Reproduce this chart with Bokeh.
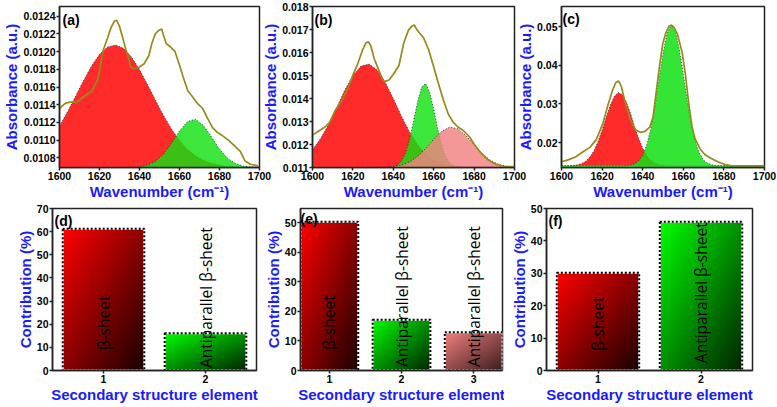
import math
import numpy as np
from bokeh.plotting import figure
from bokeh.layouts import row, column
from bokeh.models import Range1d, FixedTicker, NumeralTickFormatter, Label, ColumnDataSource
from bokeh.core.properties import value
from bokeh.embed import file_html
from bokeh.resources import INLINE

# ------------------------------------------------------------------ data
wn_ticks = [1600, 1620, 1640, 1660, 1680, 1700]

# panel (a)
a_yticks = [0.0108, 0.0110, 0.0112, 0.0114, 0.0116, 0.0118, 0.0120, 0.0122, 0.0124]
a_fit_x = [1600, 1604, 1608, 1612, 1616, 1620, 1624, 1628, 1632, 1636, 1640, 1644, 1648,
           1652, 1656, 1660, 1664, 1668, 1672, 1676, 1680, 1684, 1688, 1692, 1696, 1700]
a_beta = [0.011160, 0.011319, 0.011495, 0.011673, 0.011837, 0.011969, 0.012052, 0.012076,
          0.012037, 0.011940, 0.011799, 0.011629, 0.011450, 0.011278, 0.011124, 0.010996,
          0.010896, 0.010823, 0.010772, 0.010738, 0.010717, 0.010704, 0.010697, 0.010693,
          0.010691, 0.010690]
a_anti = [0.010690, 0.010690, 0.010690, 0.010690, 0.010690, 0.010690, 0.010690, 0.010690,
          0.010690, 0.010692, 0.010698, 0.010717, 0.010760, 0.010841, 0.010964, 0.011104,
          0.011210, 0.011235, 0.011165, 0.011035, 0.010898, 0.010795, 0.010734, 0.010705,
          0.010694, 0.010691]
a_spec_x = [1600, 1603, 1605.4, 1608.7, 1612.7, 1616.3, 1619.3, 1621.7, 1624.2, 1625.8, 1627.5,
            1628.6, 1629.9, 1631.5, 1633.2, 1634.3, 1635.6, 1637.3, 1639.7, 1642.2, 1644.6,
            1646.2, 1647.9, 1649.5, 1651.1, 1652.0, 1653.3, 1655.2, 1657.7, 1659.3, 1661.8,
            1664.2, 1666.7, 1669.1, 1671.6, 1674.0, 1676.5, 1678.9, 1681.4, 1684.6, 1687.9,
            1690.4, 1692.8, 1695.3, 1699.3]
a_spec = [0.011357, 0.011418, 0.011429, 0.011430, 0.011501, 0.011555, 0.011698, 0.012004,
          0.012166, 0.012274, 0.012346, 0.012353, 0.012292, 0.012166, 0.012022, 0.011950,
          0.011824, 0.011806, 0.011824, 0.011860, 0.011950, 0.012094, 0.012202, 0.012238,
          0.012256, 0.012184, 0.012094, 0.012058, 0.012004, 0.011896, 0.011717, 0.011555,
          0.011483, 0.011411, 0.011357, 0.011249, 0.011141, 0.011087, 0.011051, 0.010997,
          0.010925, 0.010871, 0.010763, 0.010727, 0.010709]

# panel (b)
b_yticks = [0.011, 0.012, 0.013, 0.014, 0.015, 0.016, 0.017, 0.018]
b_fit_x = a_fit_x
b_beta = [0.011775, 0.012256, 0.012885, 0.013618, 0.014365, 0.015004, 0.015410, 0.015496,
          0.015243, 0.014706, 0.013997, 0.013243, 0.012554, 0.011997, 0.011591, 0.011325,
          0.011165, 0.011078, 0.011034, 0.011013, 0.011005, 0.011001, 0.011000, 0.011000,
          0.011000, 0.011000]
b_anti2 = [0.011000, 0.011000, 0.011000, 0.011000, 0.011000, 0.011000, 0.011000, 0.011000,
           0.011000, 0.011012, 0.011038, 0.011103, 0.011238, 0.011478, 0.011826, 0.012231,
           0.012583, 0.012756, 0.012680, 0.012386, 0.011986, 0.011605, 0.011320, 0.011146,
           0.011058, 0.011020]
b_anti1_x = [1600, 1620, 1630, 1636, 1638, 1640, 1642, 1644, 1646, 1648, 1650, 1652, 1654,
             1656, 1658, 1660, 1662, 1664, 1666, 1668, 1670, 1672, 1674, 1676, 1680, 1700]
b_anti1 = [0.011000, 0.011000, 0.011000, 0.011002, 0.011009, 0.011034, 0.011104, 0.011275,
           0.011623, 0.012206, 0.013004, 0.013855, 0.014486, 0.014651, 0.014278, 0.013523,
           0.012666, 0.011943, 0.011457, 0.011190, 0.011068, 0.011021, 0.011005, 0.011001,
           0.011000, 0.011000]
b_spec_x = [1600, 1603.7, 1606.2, 1608.6, 1611.1, 1614.3, 1617.6, 1620.0, 1622.4, 1624.9,
            1626.5, 1627.6, 1628.9, 1630.6, 1632.2, 1633.8, 1635.4, 1637.9, 1640.3, 1642.8,
            1645.2, 1647.6, 1649.3, 1650.4, 1651.7, 1653.0, 1655.0, 1657.4, 1659.8, 1662.3,
            1664.7, 1667.2, 1669.6, 1672.0, 1674.5, 1677.7, 1680.2, 1683.4, 1686.7, 1690.7,
            1694.8, 1699.7]
b_spec = [0.012408, 0.012620, 0.012761, 0.012972, 0.013465, 0.013887, 0.014451, 0.015014,
          0.015507, 0.016141, 0.016423, 0.016465, 0.016282, 0.015718, 0.015366, 0.015014,
          0.014732, 0.014803, 0.015085, 0.015437, 0.016423, 0.016986, 0.017155, 0.017197,
          0.016986, 0.016845, 0.016634, 0.016141, 0.015437, 0.014662, 0.013958, 0.013324,
          0.012972, 0.012761, 0.012620, 0.012338, 0.011986, 0.011634, 0.011352, 0.011141,
          0.011042, 0.011042]

# panel (c)
c_yticks = [0.02, 0.03, 0.04, 0.05]
c_beta_x = [1600, 1604, 1606, 1608, 1610, 1612, 1614, 1616, 1618, 1620, 1622, 1624, 1626,
            1628, 1630, 1632, 1634, 1636, 1638, 1640, 1642, 1644, 1646, 1648, 1650, 1652,
            1656, 1660, 1700]
c_beta = [0.014004, 0.014040, 0.014106, 0.014257, 0.014575, 0.015186, 0.016244, 0.017912,
          0.020271, 0.023247, 0.026542, 0.029649, 0.031961, 0.032961, 0.032416, 0.030452,
          0.027521, 0.024221, 0.021108, 0.018548, 0.016676, 0.015448, 0.014721, 0.014330,
          0.014139, 0.014054, 0.014007, 0.014000, 0.014000]
c_anti_x = [1600, 1620, 1630, 1632, 1634, 1636, 1638, 1640, 1642, 1644, 1646, 1648, 1650,
            1652, 1654, 1656, 1658, 1660, 1662, 1664, 1666, 1668, 1670, 1672, 1674, 1676,
            1678, 1680, 1700]
c_anti = [0.014000, 0.014000, 0.014020, 0.014065, 0.014193, 0.014518, 0.015253, 0.016738,
          0.019392, 0.023580, 0.029358, 0.036229, 0.043034, 0.048218, 0.050409, 0.048928,
          0.044250, 0.037641, 0.030672, 0.024610, 0.020099, 0.017157, 0.015475, 0.014623,
          0.014237, 0.014082, 0.014025, 0.014000, 0.014000]
c_spec_x = [1600, 1602.9, 1606.9, 1610.8, 1614.0, 1617.2, 1620.4, 1622.8, 1625.2, 1626.8,
            1628.1, 1629.5, 1631.6, 1634.0, 1636.4, 1638.8, 1641.1, 1643.5, 1645.1, 1646.7,
            1648.3, 1649.9, 1651.5, 1653.1, 1654.2, 1655.5, 1657.1, 1659.5, 1661.1, 1662.7,
            1664.3, 1665.9, 1668.3, 1670.7, 1673.8, 1677.0, 1680.2, 1683.4, 1689.8, 1700]
c_spec = [0.01504, 0.01545, 0.01628, 0.01769, 0.01876, 0.02083, 0.02496, 0.02950, 0.03364,
          0.03554, 0.03595, 0.03446, 0.02992, 0.02579, 0.02331, 0.02264, 0.02289, 0.02397,
          0.02661, 0.03322, 0.03983, 0.04562, 0.04851, 0.05017, 0.05041, 0.04975, 0.04810,
          0.04314, 0.03736, 0.02992, 0.02413, 0.02083, 0.01835, 0.01686, 0.01587, 0.01504,
          0.01438, 0.01405, 0.01397, 0.01397]

# bar panels
d_elem = [1, 2]
d_contrib = [61.2, 16.1]
d_names = ["β-sheet", "Antiparallel β-sheet"]
d_yticks = [0, 10, 20, 30, 40, 50, 60, 70]

e_elem = [1, 2, 3]
e_contrib = [50.3, 17.2, 12.9]
e_names = ["β-sheet", "Antiparallel β-sheet", "Antiparallel β-sheet"]
e_yticks = [0, 10, 20, 30, 40, 50]

f_elem = [1, 2]
f_contrib = [30.2, 45.9]
f_names = ["β-sheet", "Antiparallel β-sheet"]
f_yticks = [0, 10, 20, 30, 40, 50]

# label anchor heights (in axis units) for the rotated bar captions
d_label_y = [20.6, 31.5]
e_label_y = [16.2, 25.0, 25.0]
f_label_y = [14.4, 24.0]

# ------------------------------------------------------------------ style
BLUE = "#1a1aff"
OLIVE = "#968a1e"
RED = "#ff2a2a"
GREEN = "#12e012"
SALMON = "#f08080"
TICKFONT = "Liberation Sans"


def style(p, xlabel, ylabel, xticks, yticks, yfmt):
    p.xaxis.axis_label = xlabel
    p.yaxis.axis_label = ylabel
    p.xaxis.ticker = FixedTicker(ticks=xticks)
    p.yaxis.ticker = FixedTicker(ticks=yticks)
    p.yaxis.formatter = NumeralTickFormatter(format=yfmt)
    for ax in (p.xaxis[0], p.yaxis[0]):
        ax.major_label_text_font = TICKFONT
        ax.major_label_text_font_style = "bold"
        ax.major_label_text_font_size = "10.5px"
        ax.major_label_text_color = "black"
        ax.axis_label_text_font = TICKFONT
        ax.axis_label_text_font_style = "bold"
        ax.axis_label_text_font_size = "15px"
        ax.axis_label_text_color = BLUE
        ax.major_tick_out = 3
        ax.major_tick_in = 0
        ax.minor_tick_out = 0
        ax.minor_tick_in = 0
        ax.axis_line_width = 1.5
        ax.axis_line_color = "#222222"
        ax.major_tick_line_width = 1.5
        ax.major_tick_line_color = "#222222"
        ax.major_label_standoff = 1
        ax.axis_label_standoff = 0
    p.xgrid.visible = False
    p.ygrid.visible = False
    p.outline_line_color = "#222222"
    p.outline_line_width = 1.5
    p.outline_line_alpha = 1.0
    p.border_fill_alpha = 0.0
    p.background_fill_color = "white"


def make_fig(fw, fh, xr, yr, ml, mr, mt, mb, shift=0):
    kw = dict(frame_width=fw, frame_height=fh, x_range=Range1d(*xr), y_range=Range1d(*yr),
              output_backend="svg", toolbar_location=None,
              min_border_left=ml, min_border_right=mr, min_border_top=mt, min_border_bottom=mb)
    if shift:
        kw["margin"] = (0, 0, 0, -shift)
    return figure(**kw)


def panel_tag(p, text, fw, fh, dx, dy):
    xr, yr = p.x_range, p.y_range
    x = xr.start + dx * (xr.end - xr.start) / fw
    y = yr.end - dy * (yr.end - yr.start) / fh
    p.add_layout(Label(x=x, y=y, text=text, text_font=TICKFONT, text_font_style="bold",
                       text_font_size="14px", text_color="black", text_align="left",
                       text_baseline="top"))


def fill(p, xs, ys, base, color, alpha):
    p.varea(x=xs, y1=[base] * len(xs), y2=ys, fill_color=color, fill_alpha=alpha)
    p.line(x=xs, y=ys, line_color="#202020", line_width=1, line_dash="1 2", line_alpha=0.8)


def gradient(bright, dark, n=96):
    u = np.linspace(0.0, 1.0, n)[None, :]
    v = np.linspace(0.0, 1.0, n)[:, None]
    f = ((1.0 - u) + v) / 2.0
    img = np.empty((n, n), dtype=np.uint32)
    view = img.view(dtype=np.uint8).reshape((n, n, 4))
    for k in range(3):
        view[:, :, k] = np.clip(dark[k] + (bright[k] - dark[k]) * f, 0, 255).astype(np.uint8)
    view[:, :, 3] = 255
    return img


BAR_STYLES = {
    "red": ((255, 0, 0), (25, 0, 0)),
    "green": ((0, 255, 0), (0, 35, 0)),
    "salmon": ((240, 128, 128), (60, 28, 28)),
}


def bars(p, cats, vals, names, label_y, colors):
    half = 0.4
    for c, v, col in zip(cats, vals, colors):
        bright, dark = BAR_STYLES[col]
        p.image_rgba(image=[gradient(bright, dark)], x=c - half, y=0, dw=2 * half, dh=v)
    src = ColumnDataSource(dict(left=[c - half for c in cats], right=[c + half for c in cats],
                                top=vals, bottom=[0] * len(vals)))
    p.quad(left="left", right="right", top="top", bottom="bottom", source=src,
           fill_alpha=0, line_color="white", line_width=2)
    p.quad(left="left", right="right", top="top", bottom="bottom", source=src,
           fill_alpha=0, line_color="black", line_width=2, line_dash="2 2")
    tsrc = ColumnDataSource(dict(x=cats, y=label_y, t=names))
    p.text(x="x", y="y", text="t", source=tsrc, angle=math.pi / 2,
           text_font=value("Open Sans"), text_font_size=value("15.5px"),
           text_align="center", text_baseline="middle", text_color="black")


XLAB_TOP = "Wavenumber (cm⁻¹)"
YLAB_TOP = "Absorbance (a.u.)"
XLAB_BOT = "Secondary structure element"
YLAB_BOT = "Contribution (%)"

FH_TOP = 161
FH_BOT = 162

# ---- (a)
pa = make_fig(200, FH_TOP, (1600, 1700), (0.01069, 0.01251), 52, 14, 6, 28)
style(pa, XLAB_TOP, YLAB_TOP, wn_ticks, a_yticks, "0.0000")
fill(pa, a_fit_x, a_beta, 0.0106, RED, 1.0)
fill(pa, a_fit_x, a_anti, 0.0106, GREEN, 0.82)
pa.line(x=a_spec_x, y=a_spec, line_color=OLIVE, line_width=1.7)
panel_tag(pa, "(a)", 200, FH_TOP, 3, 5)

# ---- (b)
pb = make_fig(202, FH_TOP, (1600, 1700), (0.011, 0.018), 48, 14, 6, 28, shift=14)
style(pb, XLAB_TOP, YLAB_TOP, wn_ticks, b_yticks, "0.000")
fill(pb, b_fit_x, b_beta, 0.0109, RED, 1.0)
fill(pb, b_anti1_x, b_anti1, 0.0109, GREEN, 0.82)
fill(pb, b_fit_x, b_anti2, 0.0109, SALMON, 0.82)
pb.line(x=b_spec_x, y=b_spec, line_color=OLIVE, line_width=1.7)
panel_tag(pb, "(b)", 202, FH_TOP, 2, 5)

# ---- (c)
pc = make_fig(203, FH_TOP, (1600, 1700), (0.01355, 0.0552), 42, 13, 6, 28, shift=14)
style(pc, XLAB_TOP, YLAB_TOP, wn_ticks, c_yticks, "0.00")
fill(pc, c_beta_x, c_beta, 0.0140, RED, 1.0)
fill(pc, c_anti_x, c_anti, 0.0130, GREEN, 0.85)
pc.line(x=c_spec_x, y=c_spec, line_color=OLIVE, line_width=1.7)
panel_tag(pc, "(c)", 203, FH_TOP, 1, 4)

# ---- (d)
pd = make_fig(204, FH_BOT, (0.5, 2.5), (0, 70), 52, 2, 6, 28)
style(pd, XLAB_BOT, YLAB_BOT, d_elem, d_yticks, "0")
bars(pd, d_elem, d_contrib, d_names, d_label_y, ["red", "green"])
panel_tag(pd, "(d)", 204, FH_BOT, 2, 4)

# ---- (e)
pe = make_fig(202, FH_BOT, (0.6, 3.4), (0, 54.8), 42, 2, 6, 28)
style(pe, XLAB_BOT, YLAB_BOT, e_elem, e_yticks, "0")
bars(pe, e_elem, e_contrib, e_names, e_label_y, ["red", "green", "salmon"])
panel_tag(pe, "(e)", 202, FH_BOT, 0, 2)

# ---- (f)
pf = make_fig(206, FH_BOT, (0.5, 2.5), (0, 50), 42, 10, 6, 28)
style(pf, XLAB_BOT, YLAB_BOT, f_elem, f_yticks, "0")
bars(pf, f_elem, f_contrib, f_names, f_label_y, ["red", "green"])
panel_tag(pf, "(f)", 206, FH_BOT, 2, 4)

layout = column(row(pa, pb, pc), row(pd, pe, pf))

open("out.html", "w").write(file_html(layout, INLINE))
